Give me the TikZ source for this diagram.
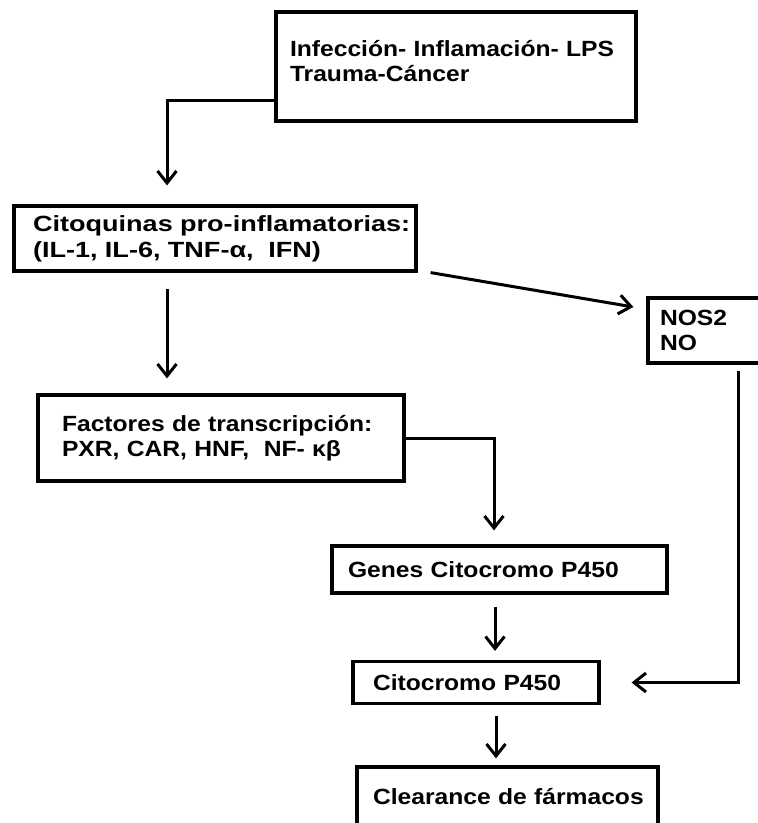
\documentclass[tikz,border=0pt]{standalone}
\usepackage{fontspec}
\setmainfont{Liberation Sans}
\newfontfamily\anchoA[FakeStretch=1.12]{Liberation Sans}
\newfontfamily\anchoB[FakeStretch=1.23]{Liberation Sans}
\usetikzlibrary{arrows.meta,positioning,calc}

\begin{document}
\begin{tikzpicture}[x=0.5pt, y=-0.5pt, >={Straight Barb[length=6pt,width=9.5pt]},
    caja/.style={draw, rectangle, line width=1.6pt, align=left, inner ysep=0pt},
    letraA/.style={font=\anchoA\fontsize{11}{12.5}\selectfont\bfseries},
    letraB/.style={font=\anchoB\fontsize{11}{13}\selectfont\bfseries},
    flecha/.style={->, line width=1.5pt}]
        \useasboundingbox (0,0) rectangle (757,823);

        % Nodes
        \node (infeccion) [caja, letraA, minimum height=54.5pt, inner xsep=7pt, text width=166pt] at (456,66.5) {\mbox{Infección- Inflamación- LPS}\\ \mbox{Trauma-Cáncer}\\[-7pt] \mbox{}};
        \node (citoquinas) [caja, letraB, minimum height=32.5pt, inner xsep=9.5pt, text width=182pt] at (215,238.5) {\mbox{Citoquinas pro-inflamatorias:}\\ \mbox{(IL-1, IL-6, TNF-α,\ \ IFN)}};
        \node (nos) [caja, letraA, minimum height=32.5pt, inner xsep=6pt, text width=50pt] at (710,330.5) {NOS2\\ NO};
        \node (factores) [caja, letraA, minimum height=43pt, inner xsep=12pt, text width=159pt] at (221,438) {\mbox{Factores de transcripción:}\\ \mbox{PXR, CAR,\ HNF,\ \ NF- κβ}};
        \node (genes) [caja, letraA, minimum height=23.5pt, inner xsep=8pt, text width=151.5pt] at (499.5,569.5) {\mbox{Genes Citocromo P450}};
        \node (citocromo) [caja, letraA, minimum height=21pt, inner xsep=10pt, text width=103pt] at (476,682.5) {\mbox{Citocromo P450}};
        \node (clearance) [caja, letraA, minimum height=30pt, inner xsep=8pt, text width=134.5pt] at (507.5,797) {\mbox{Clearance de fármacos}};

        % Arrows
        \draw[flecha, shorten >=9.5pt] (infeccion.west |- 0,101) -| (167,0 |- citoquinas.north);
        \draw[flecha] ([xshift=6.5pt]citoquinas.south east) -- ([xshift=-6.5pt,yshift=11.75pt]nos.west);
        \draw[flecha, shorten <=8pt, shorten >=7.5pt] (167,0 |- citoquinas.south) -- (167,0 |- factores.north);
        \draw[flecha, shorten >=7pt] (factores.east) -| (494,0 |- genes.north);
        \draw[flecha, shorten <=6pt, shorten >=4.5pt] (495,0 |- genes.south) -- (495,0 |- citocromo.north);
        \draw[flecha, shorten <=3pt, shorten >=15.5pt] (738,0 |- nos.south) |- (citocromo.east);
        \draw[flecha, shorten <=5.5pt, shorten >=3.5pt] (496,0 |- citocromo.south) -- (496,0 |- clearance.north);
    \end{tikzpicture}
\end{document}
